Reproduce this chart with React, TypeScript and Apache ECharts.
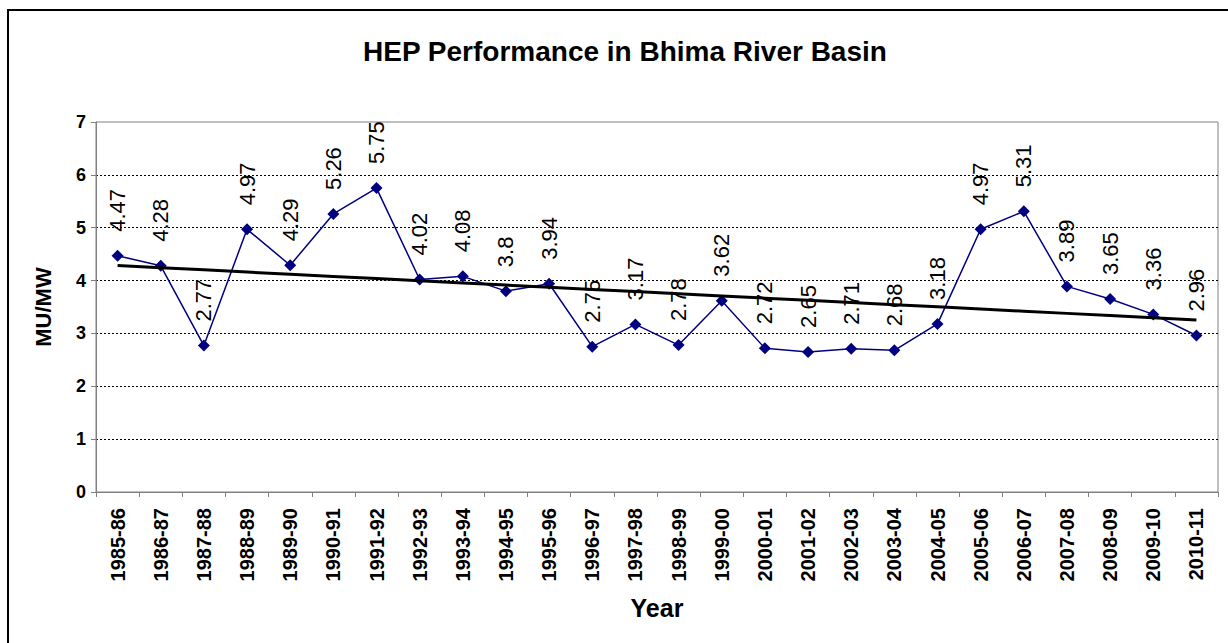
import React, { useEffect, useRef } from "react";
import * as echarts from "echarts";

const categories = [
  "1985-86", "1986-87", "1987-88", "1988-89", "1989-90", "1990-91", "1991-92",
  "1992-93", "1993-94", "1994-95", "1995-96", "1996-97", "1997-98", "1998-99",
  "1999-00", "2000-01", "2001-02", "2002-03", "2003-04", "2004-05", "2005-06",
  "2006-07", "2007-08", "2008-09", "2009-10", "2010-11",
];

const values = [
  4.47, 4.28, 2.77, 4.97, 4.29, 5.26, 5.75, 4.02, 4.08, 3.8, 3.94, 2.75, 3.17,
  2.78, 3.62, 2.72, 2.65, 2.71, 2.68, 3.18, 4.97, 5.31, 3.89, 3.65, 3.36, 2.96,
];

const yTicks = { min: 0, max: 7, interval: 1 };

// Linear (least squares) trend line, as the spreadsheet computes it
function linearTrend(ys: number[]): number[] {
  const n = ys.length;
  const xs = ys.map((_, i) => i);
  const mx = xs.reduce((a, b) => a + b, 0) / n;
  const my = ys.reduce((a, b) => a + b, 0) / n;
  let num = 0;
  let den = 0;
  for (let i = 0; i < n; i++) {
    num += (xs[i] - mx) * (ys[i] - my);
    den += (xs[i] - mx) * (xs[i] - mx);
  }
  const slope = num / den;
  const intercept = my - slope * mx;
  return xs.map((x) => +(intercept + slope * x).toFixed(4));
}

const FONT = "'Liberation Sans', Arial, Helvetica, sans-serif";

export default function App() {
  const ref = useRef<HTMLDivElement>(null);

  useEffect(() => {
    if (!ref.current) return;
    const chart = echarts.init(ref.current, undefined, { renderer: "svg" });
    const trend = linearTrend(values);
    chart.setOption({
      animation: false,
      backgroundColor: "#ffffff",
      title: {
        text: "HEP Performance in Bhima River Basin",
        left: 358,
        top: 32,
        textStyle: {
          fontFamily: FONT,
          fontWeight: "bold",
          fontSize: 28,
          color: "#000",
        },
      },
      graphic: [
        {
          type: "rect",
          shape: { x: 8, y: 10, width: 1240, height: 660 },
          style: { fill: "none", stroke: "#000", lineWidth: 2 },
          z: 100,
          silent: true,
        },
      ],
      grid: {
        left: 96,
        right: 10,
        top: 122,
        bottom: 151,
        show: true,
        borderColor: "#808080",
        borderWidth: 1,
        backgroundColor: "transparent",
      },
      xAxis: {
        type: "category",
        data: categories,
        boundaryGap: true,
        name: "Year",
        nameLocation: "middle",
        nameGap: 103,
        nameTextStyle: {
          fontFamily: FONT,
          fontWeight: "bold",
          fontSize: 25,
          color: "#000",
        },
        axisLine: { lineStyle: { color: "#808080", width: 1 } },
        axisTick: { show: true, alignWithLabel: false, length: 5, lineStyle: { color: "#808080" } },
        axisLabel: {
          rotate: 90,
          interval: 0,
          margin: 16,
          fontFamily: FONT,
          fontWeight: "bold",
          fontSize: 20,
          color: "#000",
        },
        splitLine: { show: false },
      },
      yAxis: {
        type: "value",
        min: yTicks.min,
        max: yTicks.max,
        interval: yTicks.interval,
        name: "MU/MW",
        nameLocation: "middle",
        nameGap: 42,
        nameTextStyle: {
          fontFamily: FONT,
          fontWeight: "bold",
          fontSize: 22,
          color: "#000",
        },
        axisLine: { show: true, lineStyle: { color: "#808080", width: 1 } },
        axisTick: { show: true, length: 5, lineStyle: { color: "#808080" } },
        axisLabel: {
          margin: 10,
          fontFamily: FONT,
          fontWeight: "bold",
          fontSize: 18,
          color: "#000",
        },
        splitLine: {
          show: true,
          showMinLine: false,
          showMaxLine: false,
          lineStyle: { color: "#000", type: [2, 2], width: 1 },
        },
      },
      series: [
        {
          name: "MU/MW",
          type: "line",
          data: values,
          color: "#000080",
          lineStyle: { color: "#000080", width: 1.5 },
          symbol: "diamond",
          symbolSize: 12,
          itemStyle: { color: "#000080" },
          label: {
            show: true,
            position: "top",
            rotate: 90,
            align: "left",
            verticalAlign: "middle",
            distance: 18,
            fontFamily: FONT,
            fontSize: 22,
            color: "#000",
          },
          z: 2,
        },
        {
          name: "Linear",
          type: "line",
          data: trend,
          showSymbol: false,
          symbol: "none",
          lineStyle: { color: "#000", width: 3 },
          z: 3,
        },
      ],
    });
    return () => chart.dispose();
  }, []);

  return (
    <div
      ref={ref}
      style={{ position: "absolute", left: 0, top: 0, width: 1228, height: 643 }}
    />
  );
}
